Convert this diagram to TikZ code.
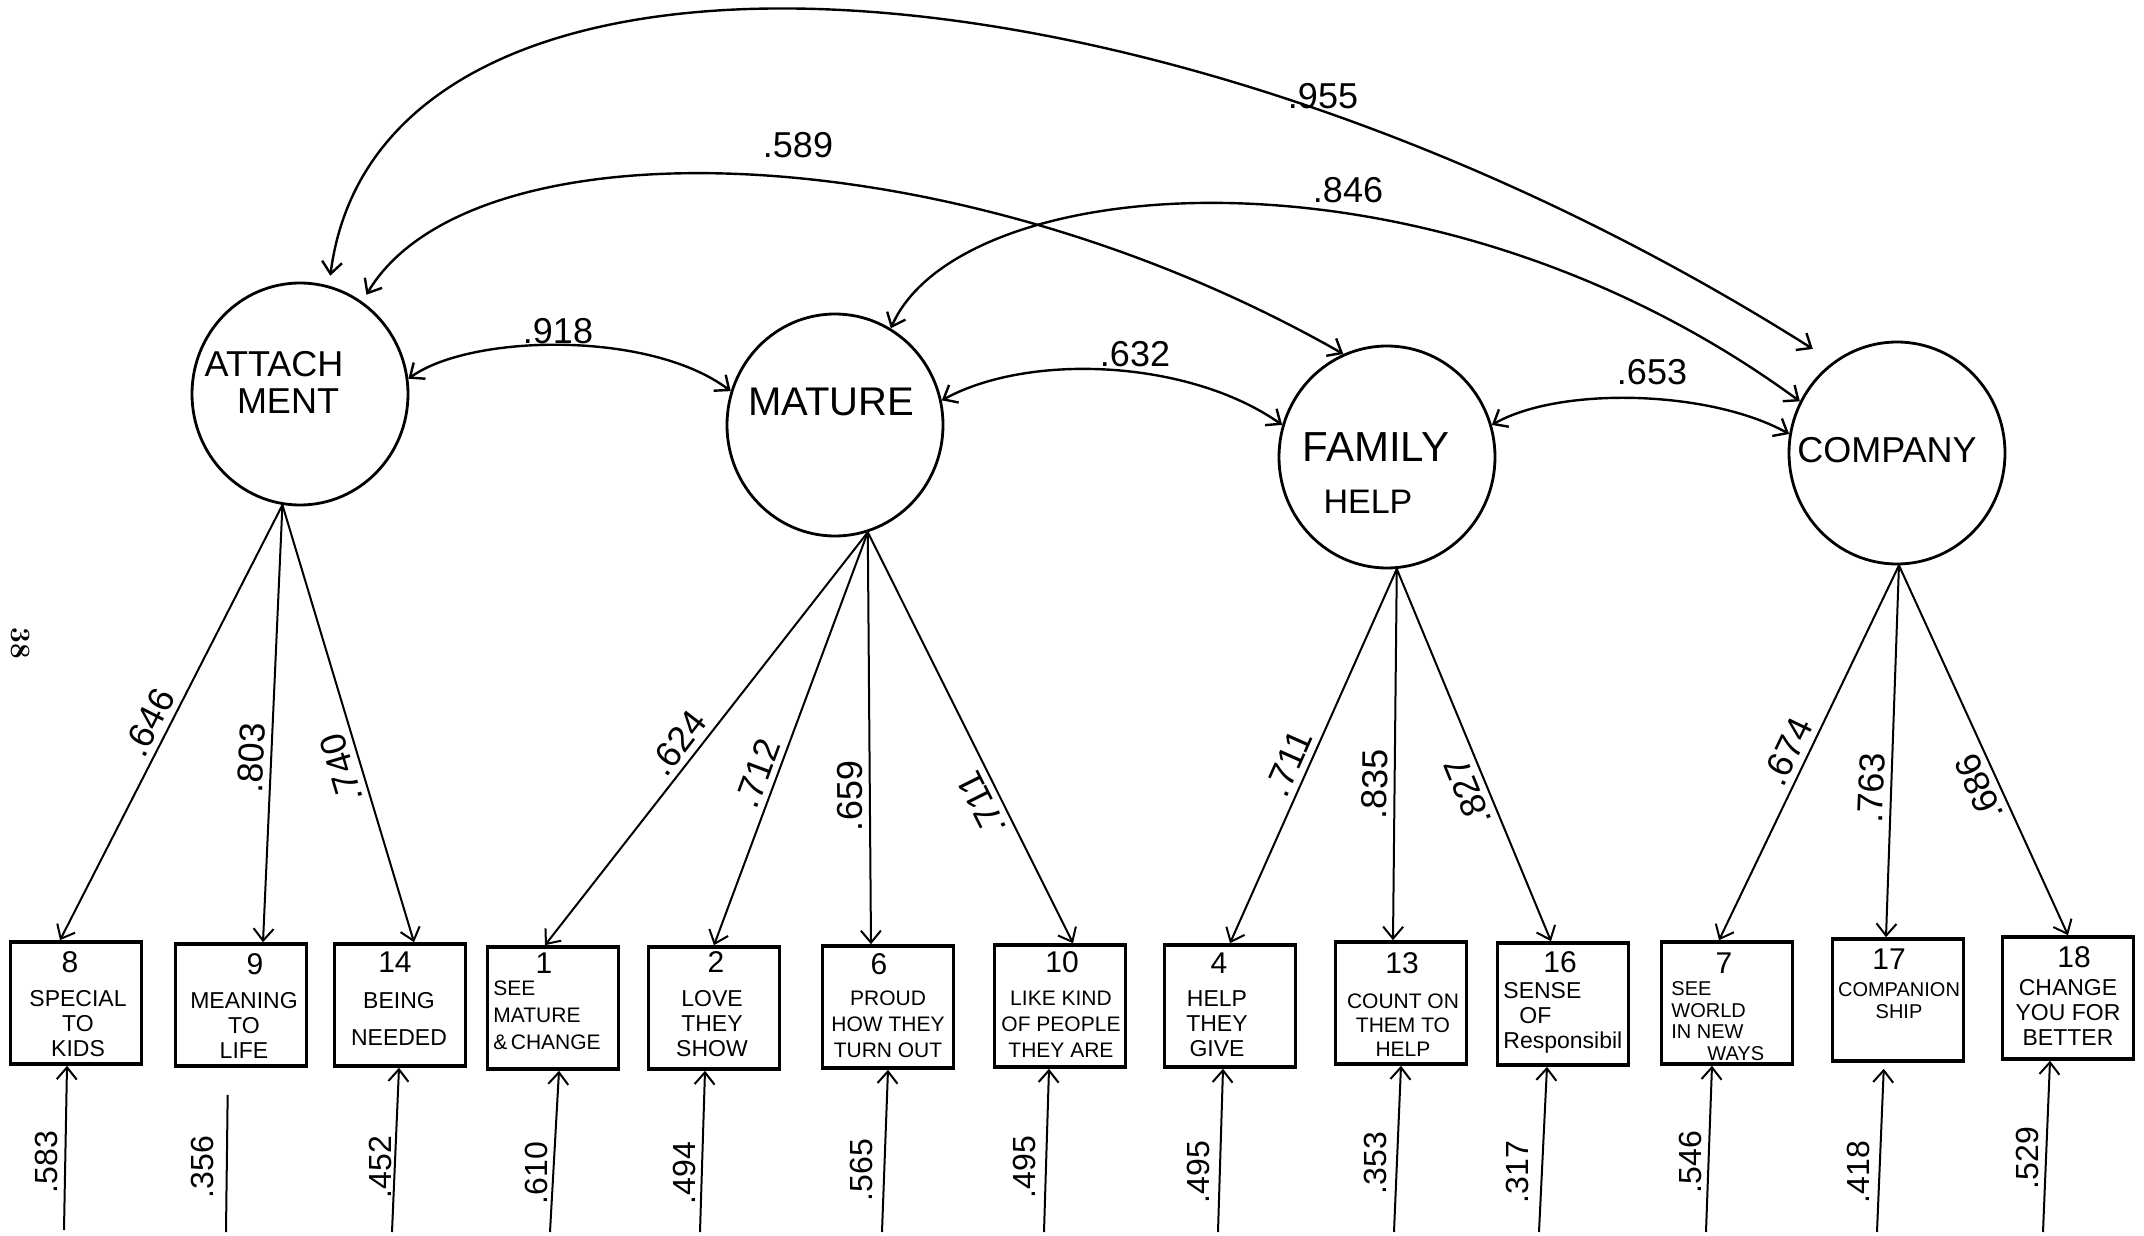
\documentclass[tikz,border=0pt]{standalone}
\usepackage{fontspec}
\newfontfamily\hand{Liberation Sans}
\usetikzlibrary{arrows.meta,shapes.geometric}

\begin{document}
\begin{tikzpicture}[x=0.5pt,y=-0.5pt,
  latent/.style={ellipse,draw,line width=1.4pt,minimum width=108pt,minimum height=111pt,inner sep=0pt},
  obs/.style={rectangle,draw,line width=1.8pt,minimum width=65.5pt,minimum height=61pt,inner sep=0pt},
  lname/.style={font=\hand\fontsize{18}{18}\selectfont,inner sep=0pt},
  num/.style={font=\hand\fontsize{15}{15}\selectfont,inner sep=0pt},
  itm/.style={font=\hand\fontsize{11.5}{12.5}\selectfont,align=center,inner sep=0pt},
  coef/.style={font=\hand\fontsize{18}{18}\selectfont,inner sep=0pt},
  ldlab/.style={coef,anchor=south,inner sep=3pt},
  errlab/.style={font=\hand\fontsize{16}{16}\selectfont,inner sep=0pt,rotate=90},
  load/.style={line width=1pt,-{Straight Barb[length=6pt,width=10pt]}},
  cov/.style={line width=1.2pt,{Straight Barb[length=6pt,width=10pt]}-{Straight Barb[length=6pt,width=10pt]}},
  resid/.style={line width=1pt,-{Straight Barb[length=6pt,width=10pt]}},
]
\useasboundingbox (0,0) rectangle (2144,1236);

% page number
\node[font=\bfseries\fontsize{14}{14}\selectfont,rotate=-90,inner sep=0pt] (page) at (21,643) {38};

% latent factors
\node[latent] (att) at (300,394) {};
\node[latent] (mat) at (835,425) {};
\node[latent] (fam) at (1387,457) {};
\node[latent] (com) at (1897,453) {};

\node[lname] (attA) at (274,364) {ATTACH};
\node[lname] (attB) at (288,401) {MENT};
\node[lname,font=\hand\fontsize{20}{20}\selectfont] (matA) at (831,402) {MATURE};
\node[lname,font=\hand\fontsize{21}{21}\selectfont] (famA) at (1376,447) {FAMILY};
\node[lname,font=\hand\fontsize{17}{17}\selectfont] (famB) at (1368,502) {HELP};
\node[lname] (comA) at (1887,450) {COMPANY};

% observed items
\node[obs] (b8)  at (76,1003)   {};
\node[obs] (b9)  at (241,1005)  {};
\node[obs] (b14) at (400,1005)  {};
\node[obs] (b1)  at (553,1008)  {};
\node[obs] (b2)  at (714,1008)  {};
\node[obs] (b6)  at (888,1007)  {};
\node[obs] (b10) at (1060,1006) {};
\node[obs] (b4)  at (1230,1006) {};
\node[obs] (b13) at (1401,1003) {};
\node[obs] (b16) at (1563,1004) {};
\node[obs] (b7)  at (1727,1003) {};
\node[obs] (b17) at (1898,1000) {};
\node[obs] (b18) at (2068,998)  {};

% item numbers
\node[num] (n8)  at (70,962)   {8};
\node[num] (n9)  at (255,964)  {9};
\node[num] (n14) at (395,962)  {14};
\node[num] (n1)  at (544,963)  {1};
\node[num] (n2)  at (716,962)  {2};
\node[num] (n6)  at (879,964)  {6};
\node[num] (n10) at (1062,962) {10};
\node[num] (n4)  at (1219,963) {4};
\node[num] (n13) at (1402,963) {13};
\node[num] (n16) at (1560,962) {16};
\node[num] (n7)  at (1724,963) {7};
\node[num] (n17) at (1889,959) {17};
\node[num] (n18) at (2074,957) {18};

% item wording
\node[itm] (t8)  at (78,1024)   {SPECIAL\\TO\\KIDS};
\node[itm] (t9)  at (244,1025)  {MEANING\\TO\\LIFE};
\node[itm] (t14) at (399,1019)  {BEING\\[6pt]NEEDED};
\node[itm,font=\hand\fontsize{10.5}{13.5}\selectfont,align=left,anchor=west] (t1) at (493,1015) {SEE\\MATURE\\\&\,CHANGE};
\node[itm] (t2)  at (712,1024)  {LOVE\\THEY\\SHOW};
\node[itm,font=\hand\fontsize{10.5}{13}\selectfont] (t6)  at (888,1024)  {PROUD\\HOW THEY\\TURN OUT};
\node[itm,font=\hand\fontsize{10.5}{13}\selectfont] (t10) at (1061,1024) {LIKE KIND\\OF PEOPLE\\THEY ARE};
\node[itm] (t4)  at (1217,1024) {HELP\\THEY\\GIVE};
\node[itm,font=\hand\fontsize{10.5}{12}\selectfont] (t13) at (1403,1025) {COUNT ON\\THEM TO\\HELP};
\node[itm,align=left,anchor=west] (t16) at (1503,1018) {SENSE\\\hspace{8pt}OF\\Responsibil};
\node[itm,font=\hand\fontsize{10}{10.8}\selectfont,align=left,anchor=west] (t7) at (1671,1021) {SEE\\WORLD\\IN NEW\\\hspace{18pt}WAYS};
\node[itm,font=\hand\fontsize{10}{11}\selectfont] (t17) at (1899,1001) {COMPANION\\SHIP};
\node[itm] (t18) at (2068,1012) {CHANGE\\YOU FOR\\BETTER};

% factor loadings, each value set along the left side of its arrow
\draw[load] (att.261) -- node[ldlab,pos=0.52,rotate=63] (l8) {.646} ([xshift=-8pt]b8.north);
\draw[load] (att.261) -- node[ldlab,pos=0.58,rotate=87.4] (l9) {.803} ([xshift=11pt]b9.north);
\draw[load] (att.261) -- node[ldlab,pos=0.59,rotate=106.6] (l14) {.740} ([xshift=7pt]b14.north);
\draw[load] (mat.287) -- node[ldlab,pos=0.54,rotate=52.3] (l1) {.624} ([xshift=-4pt]b1.north);
\draw[load] (mat.287) -- node[ldlab,pos=0.60,rotate=69.8] (l2) {.712} (b2.north);
\draw[load] (mat.287) -- node[ldlab,pos=0.64,rotate=90.6] (l6) {.659} ([xshift=-8.5pt]b6.north);
\draw[load] (mat.287) -- node[ldlab,pos=0.64,rotate=116.5] (l10) {.711} ([xshift=6.5pt]b10.north);
\draw[load] (fam.275) -- node[ldlab,pos=0.54,rotate=66.1] (l4) {.711} (b4.north);
\draw[load] (fam.275) -- node[ldlab,pos=0.58,rotate=89.4] (l13) {.835} ([xshift=-4pt]b13.north);
\draw[load] (fam.275) -- node[ldlab,pos=0.58,rotate=112.3] (l16) {.827} ([xshift=-6pt]b16.north);
\draw[load] (com.271) -- node[ldlab,pos=0.52,rotate=64.5] (l7) {.674} ([xshift=-4pt]b7.north);
\draw[load] (com.271) -- node[ldlab,pos=0.60,rotate=88] (l17) {.763} ([xshift=-6pt]b17.north);
\draw[load] (com.271) -- node[ldlab,pos=0.58,rotate=114.4] (l18) {.686} (b18.north);

% factor covariances
\draw[cov] (att.8) .. controls (470,334) and (650,330) .. (mat.162);
\draw[cov] (mat.13) .. controls (1030,352) and (1190,360) .. (fam.163);
\draw[cov] (fam.17) .. controls (1560,386) and (1710,390) .. (com.170);
\draw[cov,shorten <=4pt] (att.56) .. controls (470,120) and (950,130) .. (fam.113);
\draw[cov] (mat.60) .. controls (960,170) and (1430,130) .. (com.152);
\draw[cov,shorten <=5pt,shorten >=12pt] (att.75) .. controls (380,-110) and (1150,-70) .. (com.125);

\node[coef] (r918) at (558,331)  {.918};
\node[coef] (r632) at (1135,354) {.632};
\node[coef] (r653) at (1652,372) {.653};
\node[coef] (r589) at (798,145)  {.589};
\node[coef] (r846) at (1348,190) {.846};
\node[coef] (r955) at (1323,96)  {.955};

% residual terms
\coordinate (e8)  at (64,1230);
\coordinate (e9)  at (226,1232);
\coordinate (e14) at (392,1232);
\coordinate (e1)  at (550,1232);
\coordinate (e2)  at (700,1232);
\coordinate (e6)  at (882,1232);
\coordinate (e10) at (1044,1232);
\coordinate (e4)  at (1218,1232);
\coordinate (e13) at (1394,1232);
\coordinate (e16) at (1539,1232);
\coordinate (e7)  at (1706,1232);
\coordinate (e17) at (1877,1232);
\coordinate (e18) at (2043,1232);

\draw[resid] (e8)  -- ([xshift=-4.5pt]b8.south);
\draw[line width=1pt,shorten >=13.5pt] (e9) -- ([xshift=-6.5pt]b9.south);
\draw[resid] (e14) -- ([xshift=-0.5pt]b14.south);
\draw[resid] (e1)  -- ([xshift=3pt]b1.south);
\draw[resid] (e2)  -- ([xshift=-4.5pt]b2.south);
\draw[resid] (e6)  -- (b6.south);
\draw[resid] (e10) -- ([xshift=-5.5pt]b10.south);
\draw[resid] (e4)  -- ([xshift=-3.5pt]b4.south);
\draw[resid] (e13) -- (b13.south);
\draw[resid] (e16) -- ([xshift=-8pt]b16.south);
\draw[resid] (e7)  -- ([xshift=-7.5pt]b7.south);
\draw[resid,shorten >=3pt] (e17) -- ([xshift=-7pt]b17.south);
\draw[resid] (e18) -- ([xshift=-9pt]b18.south);

\node[errlab] (u8)  at (46,1162)   {.583};
\node[errlab] (u9)  at (202,1167)  {.356};
\node[errlab] (u14) at (380,1167)  {.452};
\node[errlab] (u1)  at (536,1173)  {.610};
\node[errlab] (u2)  at (684,1173)  {.494};
\node[errlab] (u6)  at (861,1170)  {.565};
\node[errlab] (u10) at (1024,1167) {.495};
\node[errlab] (u4)  at (1198,1172) {.495};
\node[errlab] (u13) at (1375,1163) {.353};
\node[errlab] (u16) at (1517,1172) {.317};
\node[errlab] (u7)  at (1690,1162) {.546};
\node[errlab] (u17) at (1858,1172) {.418};
\node[errlab] (u18) at (2027,1158) {.529};
\end{tikzpicture}
\end{document}
